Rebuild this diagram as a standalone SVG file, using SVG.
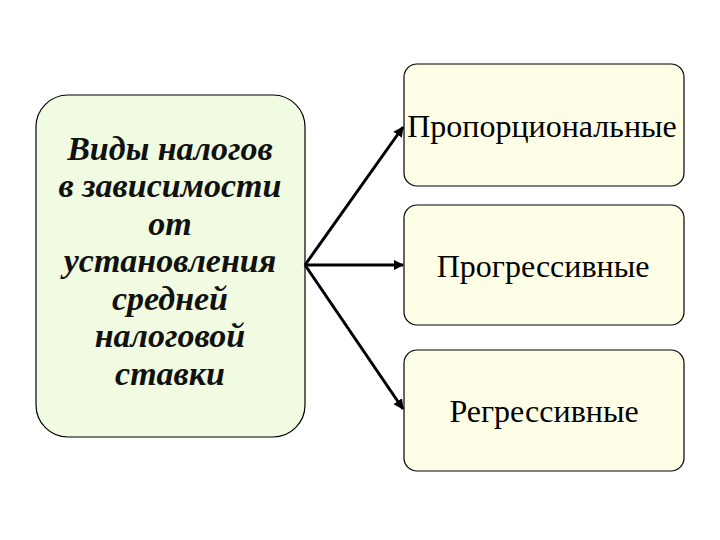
<svg xmlns="http://www.w3.org/2000/svg" width="720" height="540" viewBox="0 0 720 540">
<style>
.main{fill:#f0fbe1;stroke:#000;stroke-width:1.2}
.leaf{fill:#fefee6;stroke:#000;stroke-width:1.2}
.lt{font-family:"Liberation Serif",serif;font-weight:bold;font-style:italic;font-size:34px;fill:#111;text-anchor:middle}
.rt{font-family:"Liberation Serif",serif;font-size:32px;fill:#000;text-anchor:middle}
.conn{stroke:#000;stroke-width:3;fill:none;marker-end:url(#ah)}
</style>
<defs>
<marker id="ah" viewBox="0 0 10 10" refX="9" refY="5" markerWidth="3.5" markerHeight="3.5" orient="auto">
<path d="M0,0 L10,5 L0,10 z" fill="#000"/>
</marker>
</defs>
<rect width="720" height="540" fill="#fff"/>
<g id="main">
<rect class="main" x="36" y="95" width="269" height="342" rx="32" ry="32"/>
<text class="lt" x="170" y="160">Виды налогов</text>
<text class="lt" x="170" y="197">в зависимости</text>
<text class="lt" x="170" y="235">от</text>
<text class="lt" x="170" y="272">установления</text>
<text class="lt" x="170" y="310">средней</text>
<text class="lt" x="170" y="347">налоговой</text>
<text class="lt" x="170" y="385">ставки</text>
</g>
<g id="proportional">
<rect class="leaf" x="404" y="64" width="280" height="122" rx="13" ry="13"/>
<text class="rt" x="542" y="137">Пропорциональные</text>
</g>
<g id="progressive">
<rect class="leaf" x="404" y="205" width="280" height="120" rx="13" ry="13"/>
<text class="rt" x="543" y="277">Прогрессивные</text>
</g>
<g id="regressive">
<rect class="leaf" x="404" y="350" width="280" height="121" rx="13" ry="13"/>
<text class="rt" x="544" y="422">Регрессивные</text>
</g>
<g id="connectors">
<line class="conn" x1="305" y1="265" x2="403" y2="127"/>
<line class="conn" x1="305" y1="265" x2="403" y2="265"/>
<line class="conn" x1="305" y1="265" x2="403" y2="409"/>
</g>
</svg>
